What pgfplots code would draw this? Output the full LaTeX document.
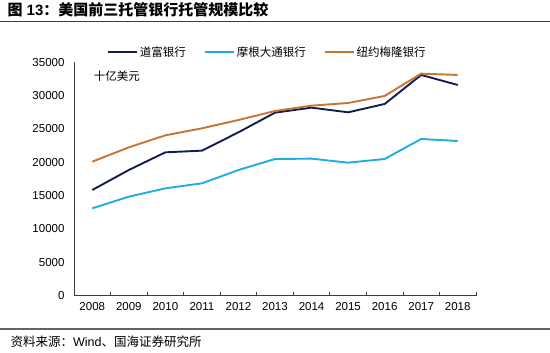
\documentclass[border=0pt]{standalone}
\usepackage{fontspec}
\setmainfont{Liberation Sans}
\newfontfamily\cjk{Noto Sans CJK SC}
\usepackage{pgfplots}
\pgfplotsset{compat=1.18}
\definecolor{cNavy}{RGB}{18,30,78}
\definecolor{cBlue}{RGB}{30,172,226}
\definecolor{cOrange}{RGB}{200,116,50}
\definecolor{cAxis}{RGB}{60,60,60}
\begin{document}
\begin{tikzpicture}[x=1pt,y=1pt]
\path[use as bounding box] (0,0) rectangle (550,-353);
\node[anchor=west,font=\bfseries\fontsize{15}{15}\selectfont] at (4,-10) {{\cjk\bfseries 图} 13{\cjk\bfseries ：美国前三托管银行托管规模比较}};
\draw[line width=1.3pt,cAxis] (0,-21.5) -- (550,-21.5);
\draw[line width=1.5pt,cAxis!80] (0,-329) -- (550,-329);
\node[anchor=west,font=\fontsize{12.5}{12.5}\selectfont] at (7,-342) {{\cjk 资料来源：}Wind{\cjk 、国海证券研究所}};
\begin{axis}[
  at={(74pt,-295.7pt)}, anchor=south west,
  scale only axis, width=402pt, height=233.4pt,
  xmin=-0.5, xmax=10.5, ymin=0, ymax=35000,
  axis lines=left, axis line style={-, cAxis, line width=0.8pt},
  xtick={0,...,10},
  xticklabels={2008,2009,2010,2011,2012,2013,2014,2015,2016,2017,2018},
  major x tick style={draw=none},
  minor xtick={-0.5,0.5,...,10.5},
  minor tick length=4pt,
  minor x tick style={cAxis, line width=0.8pt},
  tick align=inside,
  scaled ticks=false,
  ytick={0,5000,...,35000},
  major y tick style={draw=none},
  yticklabel style={/pgf/number format/1000 sep={}, /pgf/number format/assume math mode=true, font=\fontsize{11.5}{11.5}\selectfont, xshift=-6pt},
  xticklabel style={/pgf/number format/assume math mode=true, font=\fontsize{11.5}{11.5}\selectfont, yshift=-3pt},
  clip=false,
  legend columns=3,
  legend style={at={(0.481,1.044)}, anchor=center, draw=none, fill=none,
    font=\cjk\fontsize{11.5}{11.5}\selectfont,
    /tikz/every even column/.append style={column sep=16pt}},
  legend image code/.code={\draw[#1] (0pt,0pt) -- (29pt,0pt);},
  every axis plot/.append style={line width=1.9pt},
]
\addplot[cNavy] coordinates {(0,15850)(1,18850)(2,21500)(3,21750)(4,24500)(5,27450)(6,28200)(7,27500)(8,28750)(9,33100)(10,31600)};
\addlegendentry{道富银行}
\addplot[cBlue] coordinates {(0,13100)(1,14850)(2,16100)(3,16850)(4,18850)(5,20500)(6,20550)(7,19950)(8,20500)(9,23500)(10,23200)};
\addlegendentry{摩根大通银行}
\addplot[cOrange] coordinates {(0,20100)(1,22250)(2,24050)(3,25100)(4,26350)(5,27700)(6,28500)(7,28900)(8,29950)(9,33300)(10,33100)};
\addlegendentry{纽约梅隆银行}
\node[anchor=west,font=\cjk\fontsize{11.5}{11.5}\selectfont] at (axis cs:-0.05,32900) {十亿美元};
\end{axis}
\end{tikzpicture}
\end{document}
